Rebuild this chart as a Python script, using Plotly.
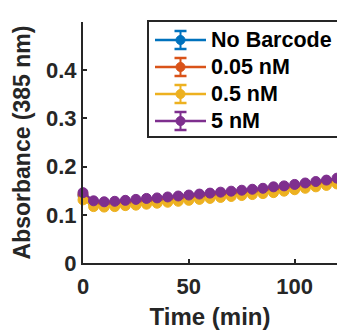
import plotly.graph_objects as go

time_min = [0, 5, 10, 15, 20, 25, 30, 35, 40, 45, 50, 55, 60, 65, 70, 75, 80, 85, 90, 95, 100, 105, 110, 115, 120]
no_barcode = [0.140, 0.124, 0.122, 0.123, 0.125, 0.127, 0.129, 0.130, 0.132, 0.134, 0.136, 0.138, 0.140, 0.142, 0.144, 0.146, 0.148, 0.150, 0.152, 0.155, 0.158, 0.161, 0.164, 0.167, 0.170]
nm_005 = [0.142, 0.125, 0.123, 0.124, 0.126, 0.128, 0.130, 0.131, 0.133, 0.135, 0.137, 0.139, 0.141, 0.143, 0.145, 0.147, 0.149, 0.151, 0.154, 0.156, 0.159, 0.162, 0.165, 0.168, 0.171]
nm_05 = [0.131, 0.117, 0.116, 0.117, 0.119, 0.120, 0.122, 0.124, 0.126, 0.128, 0.130, 0.132, 0.134, 0.136, 0.138, 0.140, 0.142, 0.144, 0.146, 0.149, 0.152, 0.155, 0.158, 0.161, 0.164]
nm_5 = [0.146, 0.129, 0.127, 0.128, 0.130, 0.132, 0.134, 0.135, 0.137, 0.139, 0.141, 0.143, 0.145, 0.147, 0.149, 0.151, 0.153, 0.155, 0.158, 0.160, 0.163, 0.166, 0.169, 0.172, 0.176]
err = [0.003] * len(time_min)

names = ["No Barcode", "0.05 nM", "0.5 nM", "5 nM"]
series = [no_barcode, nm_005, nm_05, nm_5]
colors = ["#0072BD", "#D95319", "#EDB120", "#7E2F8E"]

W, H = 337, 331
ML, MR, MT, MB = 83, 0, 22, 68
PW, PH = W - ML - MR, H - MT - MB


def px(sx):
    return (sx - ML) / PW


def py(sy):
    return (H - MB - sy) / PH


fig = go.Figure()
for name, ys, c in zip(names, series, colors):
    fig.add_trace(go.Scatter(
        x=time_min, y=ys, name=name, mode="lines+markers", cliponaxis=False,
        showlegend=False,
        line=dict(color=c, width=2),
        marker=dict(symbol="circle", size=10, color=c, line=dict(color=c, width=1)),
        error_y=dict(type="data", array=err, color=c, thickness=1.5, width=3),
    ))

# legend (frame, symbols and labels)
fig.add_shape(type="rect", xref="paper", yref="paper", x0=px(148), x1=px(350), y0=py(137), y1=py(21),
              line=dict(color="#262626", width=2), fillcolor="white", layer="above")
for i, (name, c) in enumerate(zip(names, colors)):
    cy = 40 + 27 * i
    fig.add_shape(type="line", xref="paper", yref="paper", x0=px(155), x1=px(206), y0=py(cy), y1=py(cy),
                  line=dict(color=c, width=2.5), layer="above")
    fig.add_shape(type="line", xref="paper", yref="paper", x0=px(180.5), x1=px(180.5), y0=py(cy - 9), y1=py(cy + 9),
                  line=dict(color=c, width=2), layer="above")
    for dy in (-9, 9):
        fig.add_shape(type="line", xref="paper", yref="paper", x0=px(174.5), x1=px(186.5), y0=py(cy + dy), y1=py(cy + dy),
                      line=dict(color=c, width=2.5), layer="above")
    fig.add_shape(type="circle", xref="paper", yref="paper", x0=px(176), x1=px(185), y0=py(cy + 4.5), y1=py(cy - 4.5),
                  line=dict(color=c, width=1), fillcolor=c, layer="above")
    fig.add_annotation(xref="paper", yref="paper", x=px(209), y=py(cy), xanchor="left", yanchor="middle",
                       text=name, showarrow=False,
                       font=dict(family="Liberation Sans", size=21.5, color="black", weight="bold"))

tick_font = dict(family="Liberation Sans", size=22, color="#262626", weight="bold")
fig.update_layout(
    width=W, height=H,
    margin=dict(l=ML, r=MR, t=MT, b=MB),
    paper_bgcolor="white", plot_bgcolor="white",
    font=dict(family="Liberation Sans", size=22, color="#262626"),
    showlegend=False,
    xaxis=dict(
        range=[0, 120], tickvals=[0, 50, 100], ticktext=["0", "50", "100"],
        ticks="inside", ticklen=4, tickwidth=2, tickcolor="#262626",
        showline=True, linecolor="#262626", linewidth=2, showgrid=False, zeroline=False,
        tickfont=tick_font, automargin=False, ticklabelstandoff=3,
        title=dict(text="Time (min)", font=dict(family="Liberation Sans", size=24, color="#262626", weight="bold"), standoff=10),
    ),
    yaxis=dict(
        range=[0, 0.5], tickvals=[0, 0.1, 0.2, 0.3, 0.4],
        ticktext=["0", "0.1", "0.2", "0.3", "0.4"],
        ticks="inside", ticklen=4, tickwidth=2, tickcolor="#262626",
        showline=True, linecolor="#262626", linewidth=2, showgrid=False, zeroline=False,
        tickfont=tick_font, automargin=False,
        title=dict(text="Absorbance (385 nm)", font=dict(family="Liberation Sans", size=23, color="#262626", weight="bold"), standoff=9),
    ),
)

fig.write_html("out.html", config={"displayModeBar": False},
               post_script="document.body.style.margin='0';document.body.style.overflow='hidden';")
